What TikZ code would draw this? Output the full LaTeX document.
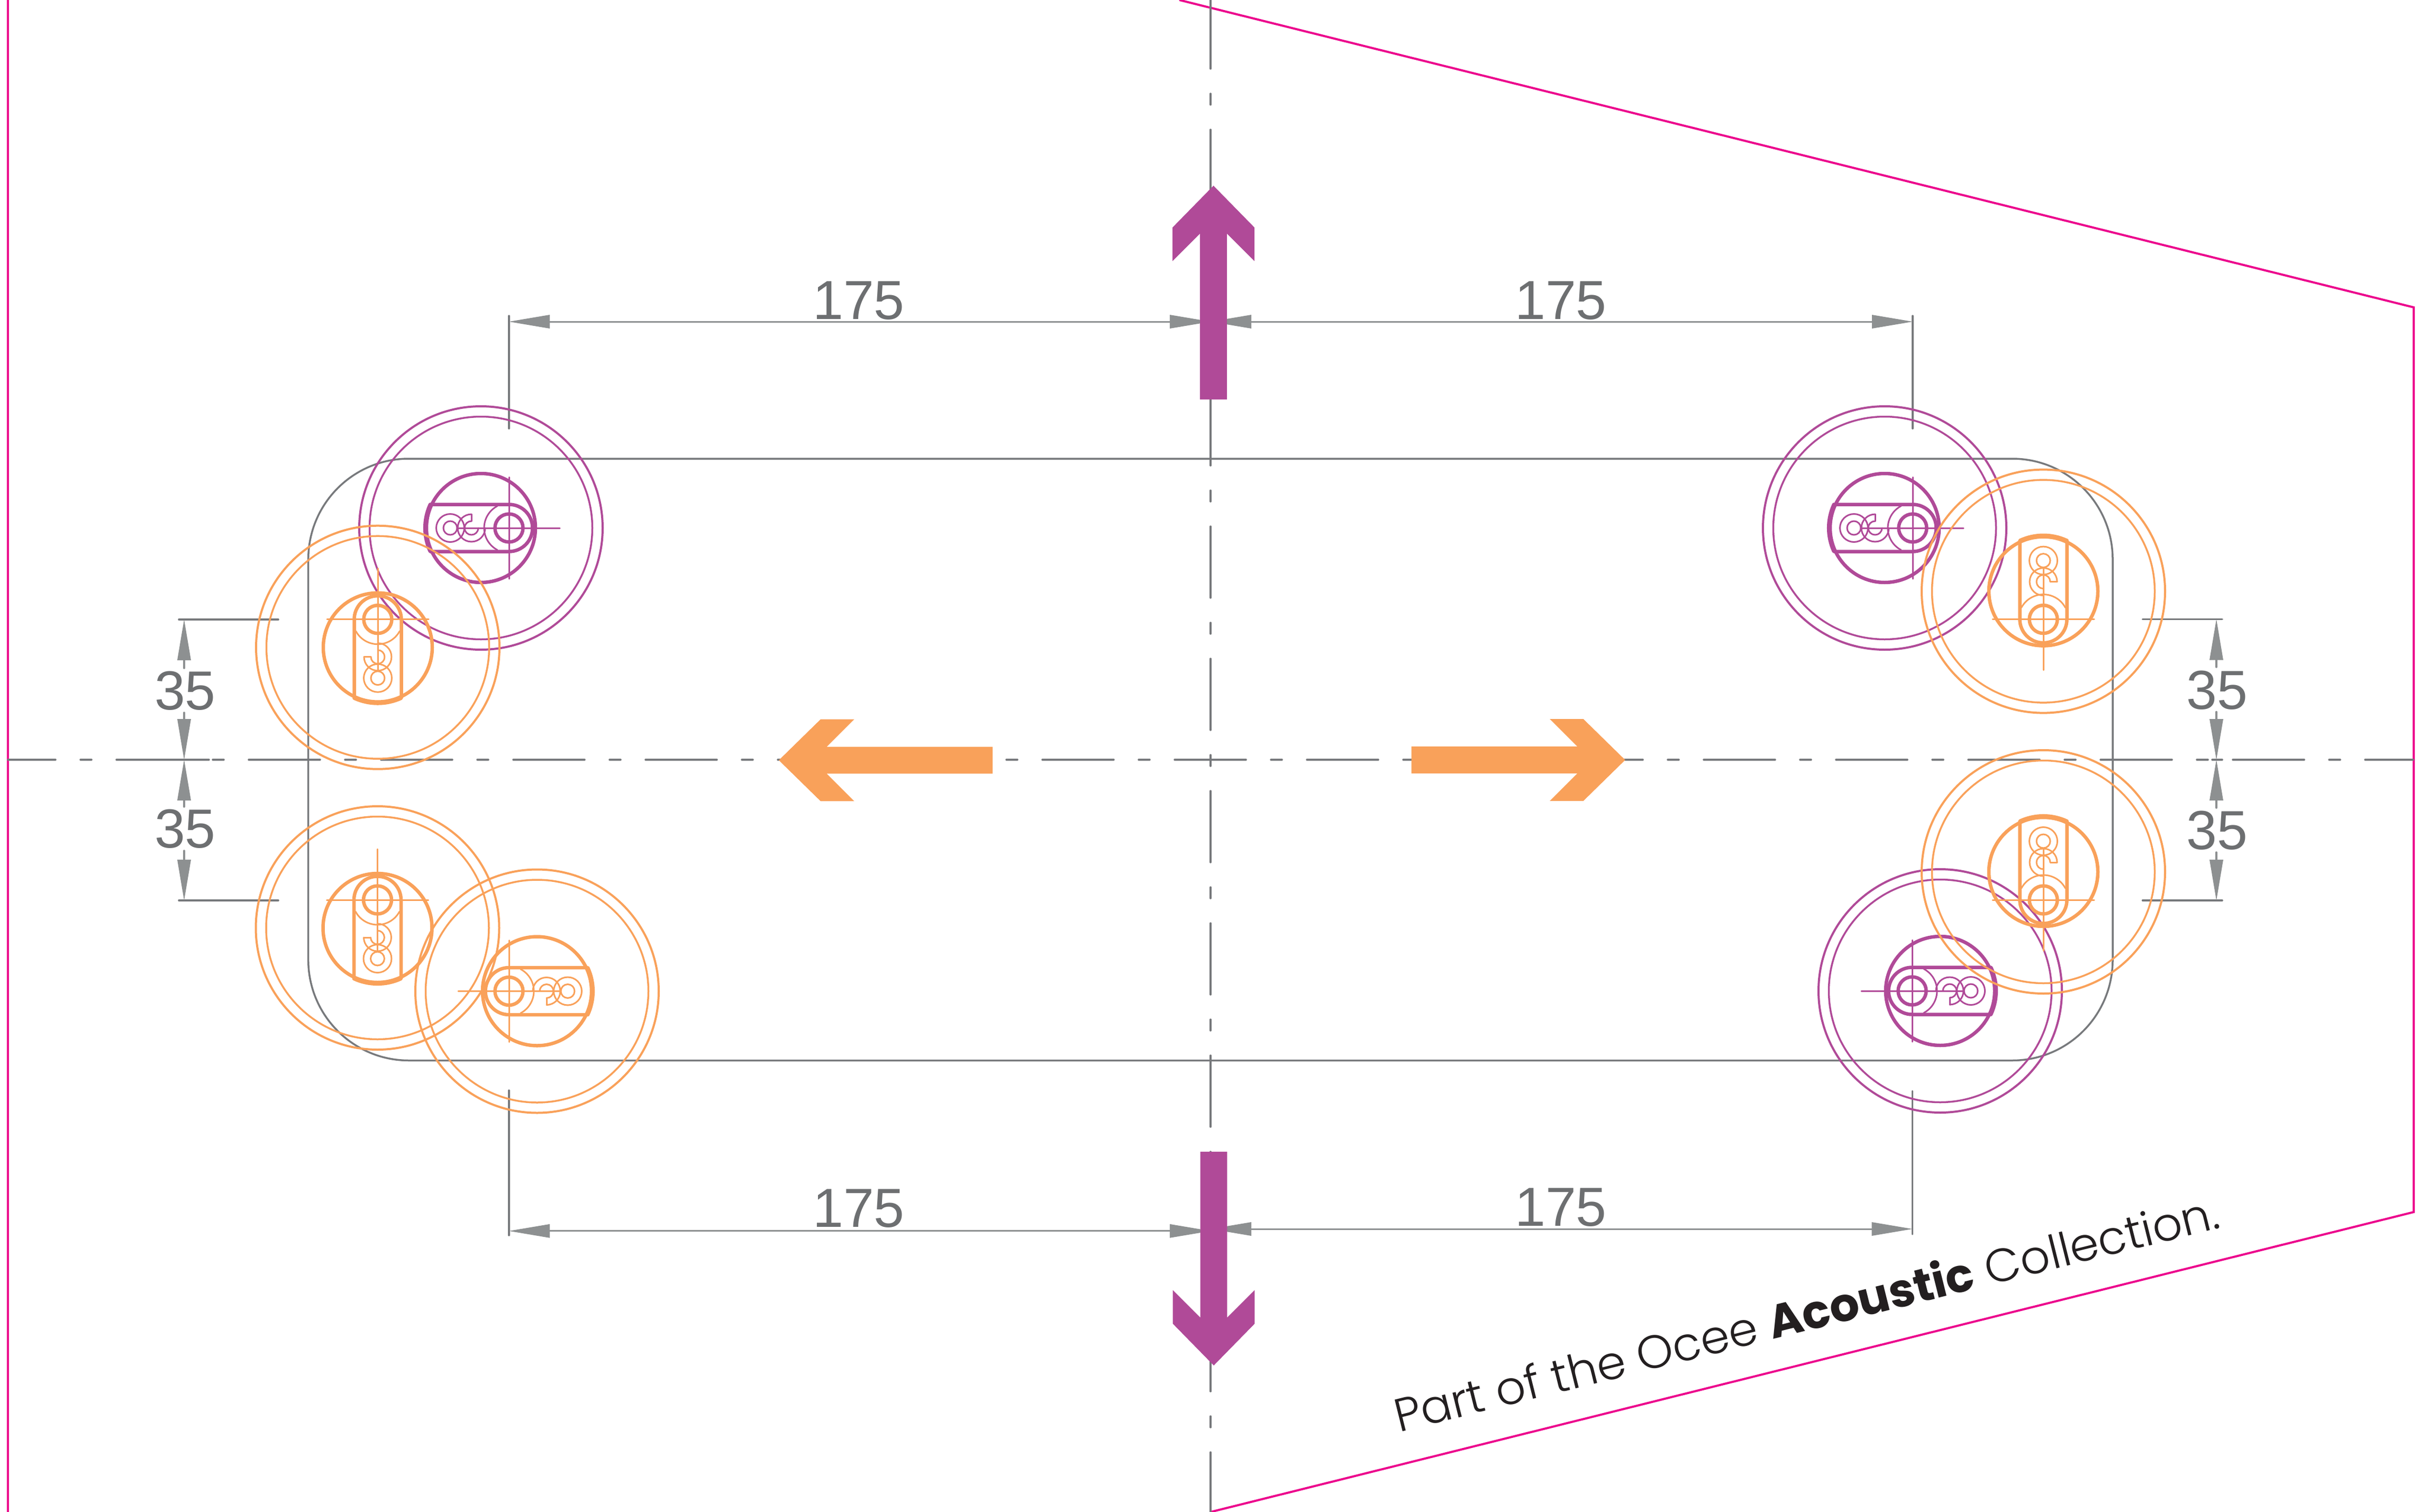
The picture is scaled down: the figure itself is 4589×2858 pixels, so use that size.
\documentclass[tikz,border=0pt]{standalone}
\usepackage{fontspec}
\usetikzlibrary{arrows.meta}
\setmainfont{Liberation Sans}
\newfontfamily\notefont{Poppins}[UprightFont=* Light,BoldFont=* Bold]
\definecolor{plum}{HTML}{B04A98}
\definecolor{peach}{HTML}{F9A15A}
\definecolor{linegray}{HTML}{77797C}
\definecolor{headgray}{HTML}{8D9091}
\definecolor{textgray}{HTML}{6D6F71}
\definecolor{edgepink}{HTML}{EC008C}
\definecolor{noteblack}{HTML}{231F20}
\tikzset{
  centerline/.style={draw=linegray,line width=3.5pt,line cap=round,dash pattern=on 135pt off 47pt on 21pt off 47pt},
  plainline/.style={draw=linegray,line width=3.5pt,line cap=round},
  dimline/.style={draw=headgray,line width=3pt,-{Triangle[length=77pt,width=26pt,line width=0pt,fill=headgray]}},
  dimboth/.style={draw=headgray,line width=3pt,{Triangle[length=77pt,width=26pt,line width=0pt,fill=headgray]}-{Triangle[length=77pt,width=26pt,line width=0pt,fill=headgray]}},
  dimshort/.style={draw=headgray,line width=3.5pt,line cap=round,-{Triangle[length=77pt,width=26pt,line width=0pt,fill=headgray]}},
  edgeline/.style={draw=edgepink,line width=4pt,line join=miter},
  dimtext/.style={inner sep=0pt,text=textgray,font=\fontsize{104}{104}\selectfont},
  thinpart/.style={line width=3pt,line cap=round},
  heavypart/.style={line width=6.5pt,line join=round}
}
% x, y, rotation, colour
\newcommand{\fixture}[4]{%
  \begin{scope}[shift={(#1,#2)},rotate=#3,x=1pt,y=1pt,draw=#4]
    \draw[line width=4pt] (-53,0) circle[radius=230];
    \draw[line width=3.5pt] (-53,0) circle[radius=210.5];
    \draw[heavypart] (-53,0) circle[radius=103];
    \draw[heavypart] (-149,44.5) -- (0,44.5) arc[start angle=90,end angle=-90,radius=44.5] -- (-149,-44.5)
      arc[start angle=204.9,end angle=155.1,radius=105.8] -- cycle;
    \draw[heavypart] (0,0) circle[radius=26.5];
    \draw[thinpart] (-96,0) -- (96,0) (0,-96) -- (0,96);
    \draw[thinpart] (0,0) ++(118:47) arc[start angle=118,end angle=242,radius=47];
    \draw[thinpart] (-111,0) circle[radius=26.5] (-111,0) circle[radius=13];
    \draw[thinpart,line join=round] (-71,26) arc[start angle=90,end angle=360,radius=26] ;
    \draw[thinpart,line join=round] (-71,13) arc[start angle=90,end angle=360,radius=13];
    \draw[thinpart] (-71,13) -- (-71,26);
  \end{scope}}
% tip x, tip y, rotation, colour
\newcommand{\bigarrow}[4]{%
  \fill[#4,shift={(#1,#2)},rotate=#3,x=1pt,y=1pt] (0,0) -- (-79,77.4) -- (-142.5,77.4) -- (-90.5,25.4) -- (-404,25.4)
    -- (-404,-25.4) -- (-90.5,-25.4) -- (-142.5,-77.4) -- (-79,-77.4) -- cycle;}
\begin{document}
\begin{tikzpicture}[x=1pt,y=-1pt]
\useasboundingbox (0,0) rectangle (4589,2858);
% named anchors
\coordinate (hl) at (15,1436); \coordinate (hr) at (4561,1436);
\coordinate (vt) at (2288,0); \coordinate (vb) at (2288,2858);
\coordinate (ml) at (2288,608); \coordinate (mb1) at (2288,2326.8); \coordinate (mb2) at (2288,2323);
\coordinate (tl) at (962,608); \coordinate (tr) at (3615,608);
\coordinate (bl) at (962,2326.8); \coordinate (br) at (3614.5,2323);
\coordinate (tlx) at (962,810); \coordinate (trx) at (3615,810);
\coordinate (blx) at (962,2061); \coordinate (brx) at (3614.5,2062);
\coordinate (tlt) at (962,597); \coordinate (trt) at (3615,597);
\coordinate (blb) at (962,2335); \coordinate (brb) at (3614.5,2333);
% outline
\draw[edgeline] (14.5,0) -- (14.5,2858);
\draw[edgeline] (2229,0) -- (4562,581) -- (4562,2291) -- (2288,2858);
% centre lines
\draw[centerline,dash phase=45pt] (hl) -- (hr);
\draw[centerline,dash phase=5pt] (vt) -- (vb);
\draw[plainline] (338,1436) -- (395,1436);
\draw[plainline] (4181,1436) -- (4200,1436);
% plate
\draw[draw=linegray,line width=3.5pt,rounded corners=190pt] (582.7,867) rectangle (3993,2004.5);
% extension lines
\draw[plainline] (tlt) -- (tlx);
\draw[plainline] (trt) -- (trx);
\draw[plainline] (blx) -- (blb);
\draw[plainline,line width=3pt] (brx) -- (brb);
\draw[plainline] (338,1171) -- (526,1171);
\draw[plainline] (338,1702) -- (526,1702);
\draw[plainline] (4049.5,1170.5) -- (4200,1170.5);
\draw[plainline] (4049.5,1702) -- (4200,1702);
% horizontal dimensions
\draw[dimboth] (tl) -- (ml);
\draw[dimboth] (ml) -- (tr);
\draw[dimboth] (bl) -- (mb1);
\draw[dimboth] (mb2) -- (br);
% vertical dimensions, left
\coordinate (a1) at (348,1263); \coordinate (a1t) at (348,1171);
\coordinate (a2) at (348,1347); \coordinate (a2t) at (348,1436);
\coordinate (a3) at (348,1525); \coordinate (a3t) at (348,1436);
\coordinate (a4) at (348,1608); \coordinate (a4t) at (348,1702);
\draw[dimshort] (a1) -- (a1t);
\draw[dimshort] (a2) -- (a2t);
\draw[dimshort] (a3) -- (a3t);
\draw[dimshort] (a4) -- (a4t);
% vertical dimensions, right
\coordinate (b1) at (4189,1261); \coordinate (b1t) at (4189,1170.5);
\coordinate (b2) at (4189,1345.6); \coordinate (b2t) at (4189,1436);
\coordinate (b3) at (4189,1527); \coordinate (b3t) at (4189,1436);
\coordinate (b4) at (4189,1611); \coordinate (b4t) at (4189,1702);
\draw[dimshort] (b1) -- (b1t);
\draw[dimshort] (b2) -- (b2t);
\draw[dimshort] (b3) -- (b3t);
\draw[dimshort] (b4) -- (b4t);
% labels
\node[dimtext] (d1) at (1623,568) {175};
\node[dimtext] (d2) at (2950,568) {175};
\node[dimtext] (d3) at (1623,2284) {175};
\node[dimtext] (d4) at (2950,2282) {175};
\node[dimtext] (d5) at (350,1306) {35};
\node[dimtext] (d6) at (350,1567) {35};
\node[dimtext] (d7) at (4190,1305) {35};
\node[dimtext] (d8) at (4190,1570) {35};
% fixtures
\fixture{962}{998}{0}{plum}
\fixture{3615}{998}{0}{plum}
\fixture{3614}{1873}{180}{plum}
\fixture{714}{1170.7}{90}{peach}
\fixture{713.5}{1701}{90}{peach}
\fixture{962}{1873.5}{180}{peach}
\fixture{3862}{1170.6}{-90}{peach}
\fixture{3862}{1701}{-90}{peach}
% direction arrows
\bigarrow{2293.5}{351}{90}{plum}
\bigarrow{2294}{2581}{-90}{plum}
\bigarrow{1472}{1437}{180}{peach}
\bigarrow{3071.6}{1436.5}{0}{peach}
% note
\node[anchor=base west,inner sep=0pt,rotate=14,text=noteblack,font=\notefont\fontsize{88}{88}\selectfont] (note) at (2644,2708) {Part of the Ocee \textbf{Acoustic} Collection.};
\end{tikzpicture}
\end{document}
